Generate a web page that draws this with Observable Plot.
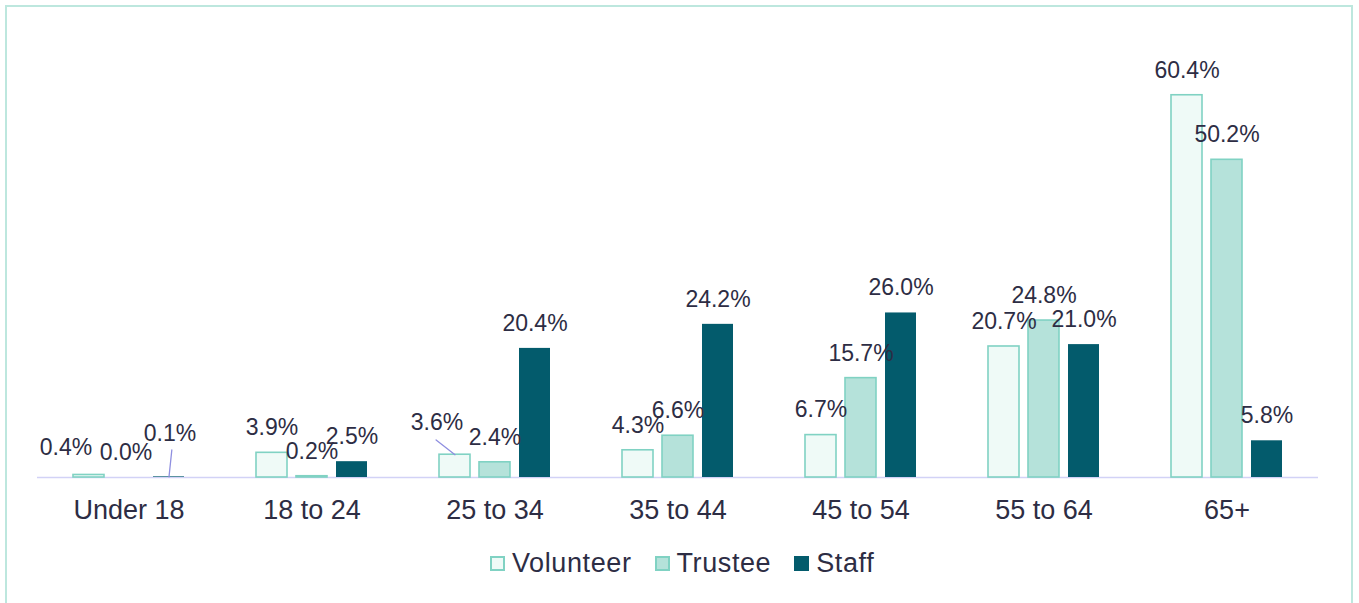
<!DOCTYPE html>
<html>
<head>
<meta charset="utf-8">
<script src="https://cdn.jsdelivr.net/npm/d3@7"></script>
<script src="https://cdn.jsdelivr.net/npm/@observablehq/plot@0.6"></script>
<style>
  html, body { margin: 0; padding: 0; background: #ffffff; overflow: hidden; }
  body { width: 1359px; height: 603px; position: relative; font-family: "Liberation Sans", Arial, sans-serif; }
  #frame { position: absolute; left: 5px; top: 5px; width: 1348px; height: 640px;
           border: 2px solid #bde7de; border-bottom: none; box-sizing: border-box; }
  #chart { position: absolute; left: 0; top: 0; }
  #legend { position: absolute; left: 490px; top: 550px; display: flex; align-items: center;
            font-size: 27px; letter-spacing: 0.6px; color: #2d2d44; line-height: 27px; white-space: nowrap; }
  .item { display: flex; align-items: center; margin-right: 23px; }
  .sw { width: 15px; height: 15px; box-sizing: border-box; margin-right: 7px; }
</style>
</head>
<body>
<div id="frame"></div>
<div id="chart"></div>
<div id="legend"></div>
<script>
// ---- data ----
const ages = ["Under 18", "18 to 24", "25 to 34", "35 to 44", "45 to 54", "55 to 64", "65+"];
const seriesNames = ["Volunteer", "Trustee", "Staff"];
const volunteer = [0.4, 3.9, 3.6, 4.3, 6.7, 20.7, 60.4];
const trustee   = [0.0, 0.2, 2.4, 6.6, 15.7, 24.8, 50.2];
const staff     = [0.1, 2.5, 20.4, 24.2, 26.0, 21.0, 5.8];

// label nudges (pixels) for crowded labels, and leader lines
const nudges = [
  {age: "Under 18", series: "Volunteer", dx: -23, dy: -27},
  {age: "Under 18", series: "Trustee",   dx: -3,  dy: -25},
  {age: "Under 18", series: "Staff",     dx: 1,   dy: -43},
  {age: "25 to 34", series: "Volunteer", dx: -18, dy: -32}
];
const leaders = [
  {age: "Under 18", series: "Staff",     length: 27, rotate: 6},
  {age: "25 to 34", series: "Volunteer", length: 24, rotate: -52}
];

// ---- styles ----
const fills   = ["#effaf7", "#b5e2da", "#035b6c"];
const lightStroke = "#80d2c3";
const textColor = "#2d2d44";

const seriesValues = [volunteer, trustee, staff];
const data = [];
ages.forEach((age, i) => {
  seriesNames.forEach((s, j) => data.push({age, series: s, value: seriesValues[j][i]}));
});
const key = d => d.age + "|" + d.series;
const nudgeKeys = new Set(nudges.map(key));
const lookup = new Map(data.map(d => [key(d), d]));

const labelFmt = d => d.value.toFixed(1) + "%";
const labelStyle = {fill: textColor, fontSize: 23, style: "letter-spacing: 0.6px"};

const marks = [
  Plot.ruleY([0], {stroke: "#d2d2f6", strokeWidth: 1.5}),
  Plot.barY(data.filter(d => d.series !== "Staff"), {fx: "age", x: "series", y: "value", fill: "series", stroke: lightStroke, strokeWidth: 1.6}),
  Plot.barY(data.filter(d => d.series === "Staff"), {fx: "age", x: "series", y: "value", fill: "series"}),
  Plot.text(data.filter(d => !nudgeKeys.has(key(d))), {fx: "age", x: "series", y: "value", text: labelFmt, dy: -25, ...labelStyle})
];
nudges.forEach(n => {
  marks.push(Plot.text([lookup.get(key(n))], {fx: "age", x: "series", y: "value", text: labelFmt, dx: n.dx, dy: n.dy, ...labelStyle}));
});
leaders.forEach(l => {
  marks.push(Plot.vector([lookup.get(key(l))], {
    fx: "age", x: "series", y: "value", length: l.length, rotate: l.rotate, anchor: "start",
    stroke: "#8f8fe0", strokeWidth: 1.3,
    shape: {draw(context, len) { context.moveTo(0, 0); context.lineTo(0, -len); }}
  }));
});

const chart = Plot.plot({
  width: 1359,
  height: 530,
  marginTop: 34,
  marginBottom: 53,
  marginLeft: 35,
  marginRight: 39,
  style: {fontFamily: "'Liberation Sans', Arial, sans-serif", fontSize: "27px", color: textColor, background: "transparent", overflow: "visible"},
  fx: {domain: ages, padding: 0, axis: "bottom", tickSize: 0, tickPadding: 22, label: null},
  x: {domain: seriesNames, paddingInner: 0.22, paddingOuter: 0.85, axis: null},
  y: {domain: [0, 70], axis: null},
  color: {domain: seriesNames, range: fills},
  marks
});
document.getElementById("chart").appendChild(chart);

// legend
const legend = document.getElementById("legend");
seriesNames.forEach((s, j) => {
  const item = document.createElement("div");
  item.className = "item";
  const sw = document.createElement("div");
  sw.className = "sw";
  sw.style.background = fills[j];
  if (j < 2) sw.style.border = "2px solid " + lightStroke;
  const label = document.createElement("span");
  label.textContent = s;
  item.appendChild(sw);
  item.appendChild(label);
  legend.appendChild(item);
});
</script>
</body>
</html>
